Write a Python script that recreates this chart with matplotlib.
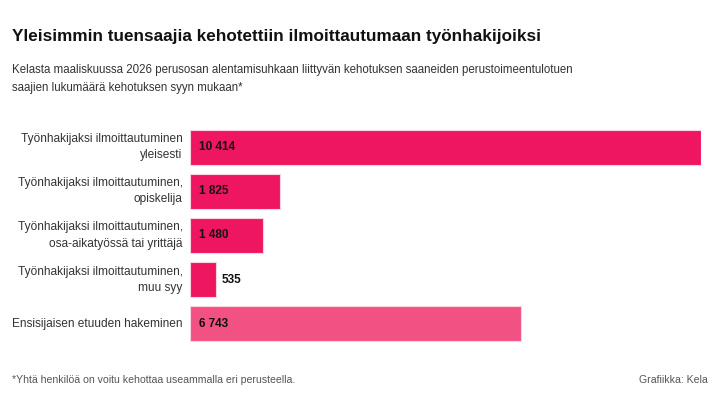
import matplotlib.pyplot as plt

labels = ["Työnhakijaksi ilmoittautuminen\nyleisesti",
          "Työnhakijaksi ilmoittautuminen,\nopiskelija",
          "Työnhakijaksi ilmoittautuminen,\nosa-aikatyössä tai yrittäjä",
          "Työnhakijaksi ilmoittautuminen,\nmuu syy",
          "Ensisijaisen etuuden hakeminen"]
values = [10414, 1825, 1480, 535, 6743]
colors = ["#EE1660", "#EE1660", "#EE1660", "#EE1660", "#F25283"]

plt.rcParams['font.family'] = ['Liberation Sans', 'DejaVu Sans']

fig = plt.figure(figsize=(7.2, 4.05), dpi=100)
ax = fig.add_axes([190/720, 59/405, 511/720, 221/405])

y = list(range(len(values)))
ax.barh(y, values, height=0.79, color=colors, edgecolor="#fbd3df", linewidth=0.8)
ax.set_xlim(0, max(values))
ax.set_ylim(len(values) - 0.5, -0.5)
ax.axis("off")

for i, (lab, v) in enumerate(zip(labels, values)):
    ax.text(-150, i, lab, ha="right", va="center", fontsize=8.6, color="#333333",
            linespacing=1.45)
    txt = f"{v:,}".replace(",", " ")
    if v > 1000:
        ax.text(180, i, txt, ha="left", va="center", fontsize=8.5, fontweight="bold", color="#111111")
    else:
        ax.text(v + 110, i, txt, ha="left", va="center", fontsize=8.5, fontweight="bold", color="#111111")

fig.text(12/720, 1 - 37/405, "Yleisimmin tuensaajia kehotettiin ilmoittautumaan työnhakijoiksi",
         fontsize=12.3, fontweight="bold", color="#111111", va="center")
fig.text(12/720, 1 - 79/405,
         "Kelasta maaliskuussa 2026 perusosan alentamisuhkaan liittyvän kehotuksen saaneiden perustoimeentulotuen\n"
         "saajien lukumäärä kehotuksen syyn mukaan*",
         fontsize=8.3, color="#333333", va="center", linespacing=1.6)
fig.text(12/720, 1 - 380/405, "*Yhtä henkilöä on voitu kehottaa useammalla eri perusteella.",
         fontsize=7.6, color="#555555", va="center")
fig.text(708/720, 1 - 380/405, "Grafiikka: Kela", fontsize=7.6, color="#555555", va="center", ha="right")

fig.savefig("out.png", dpi=100)
